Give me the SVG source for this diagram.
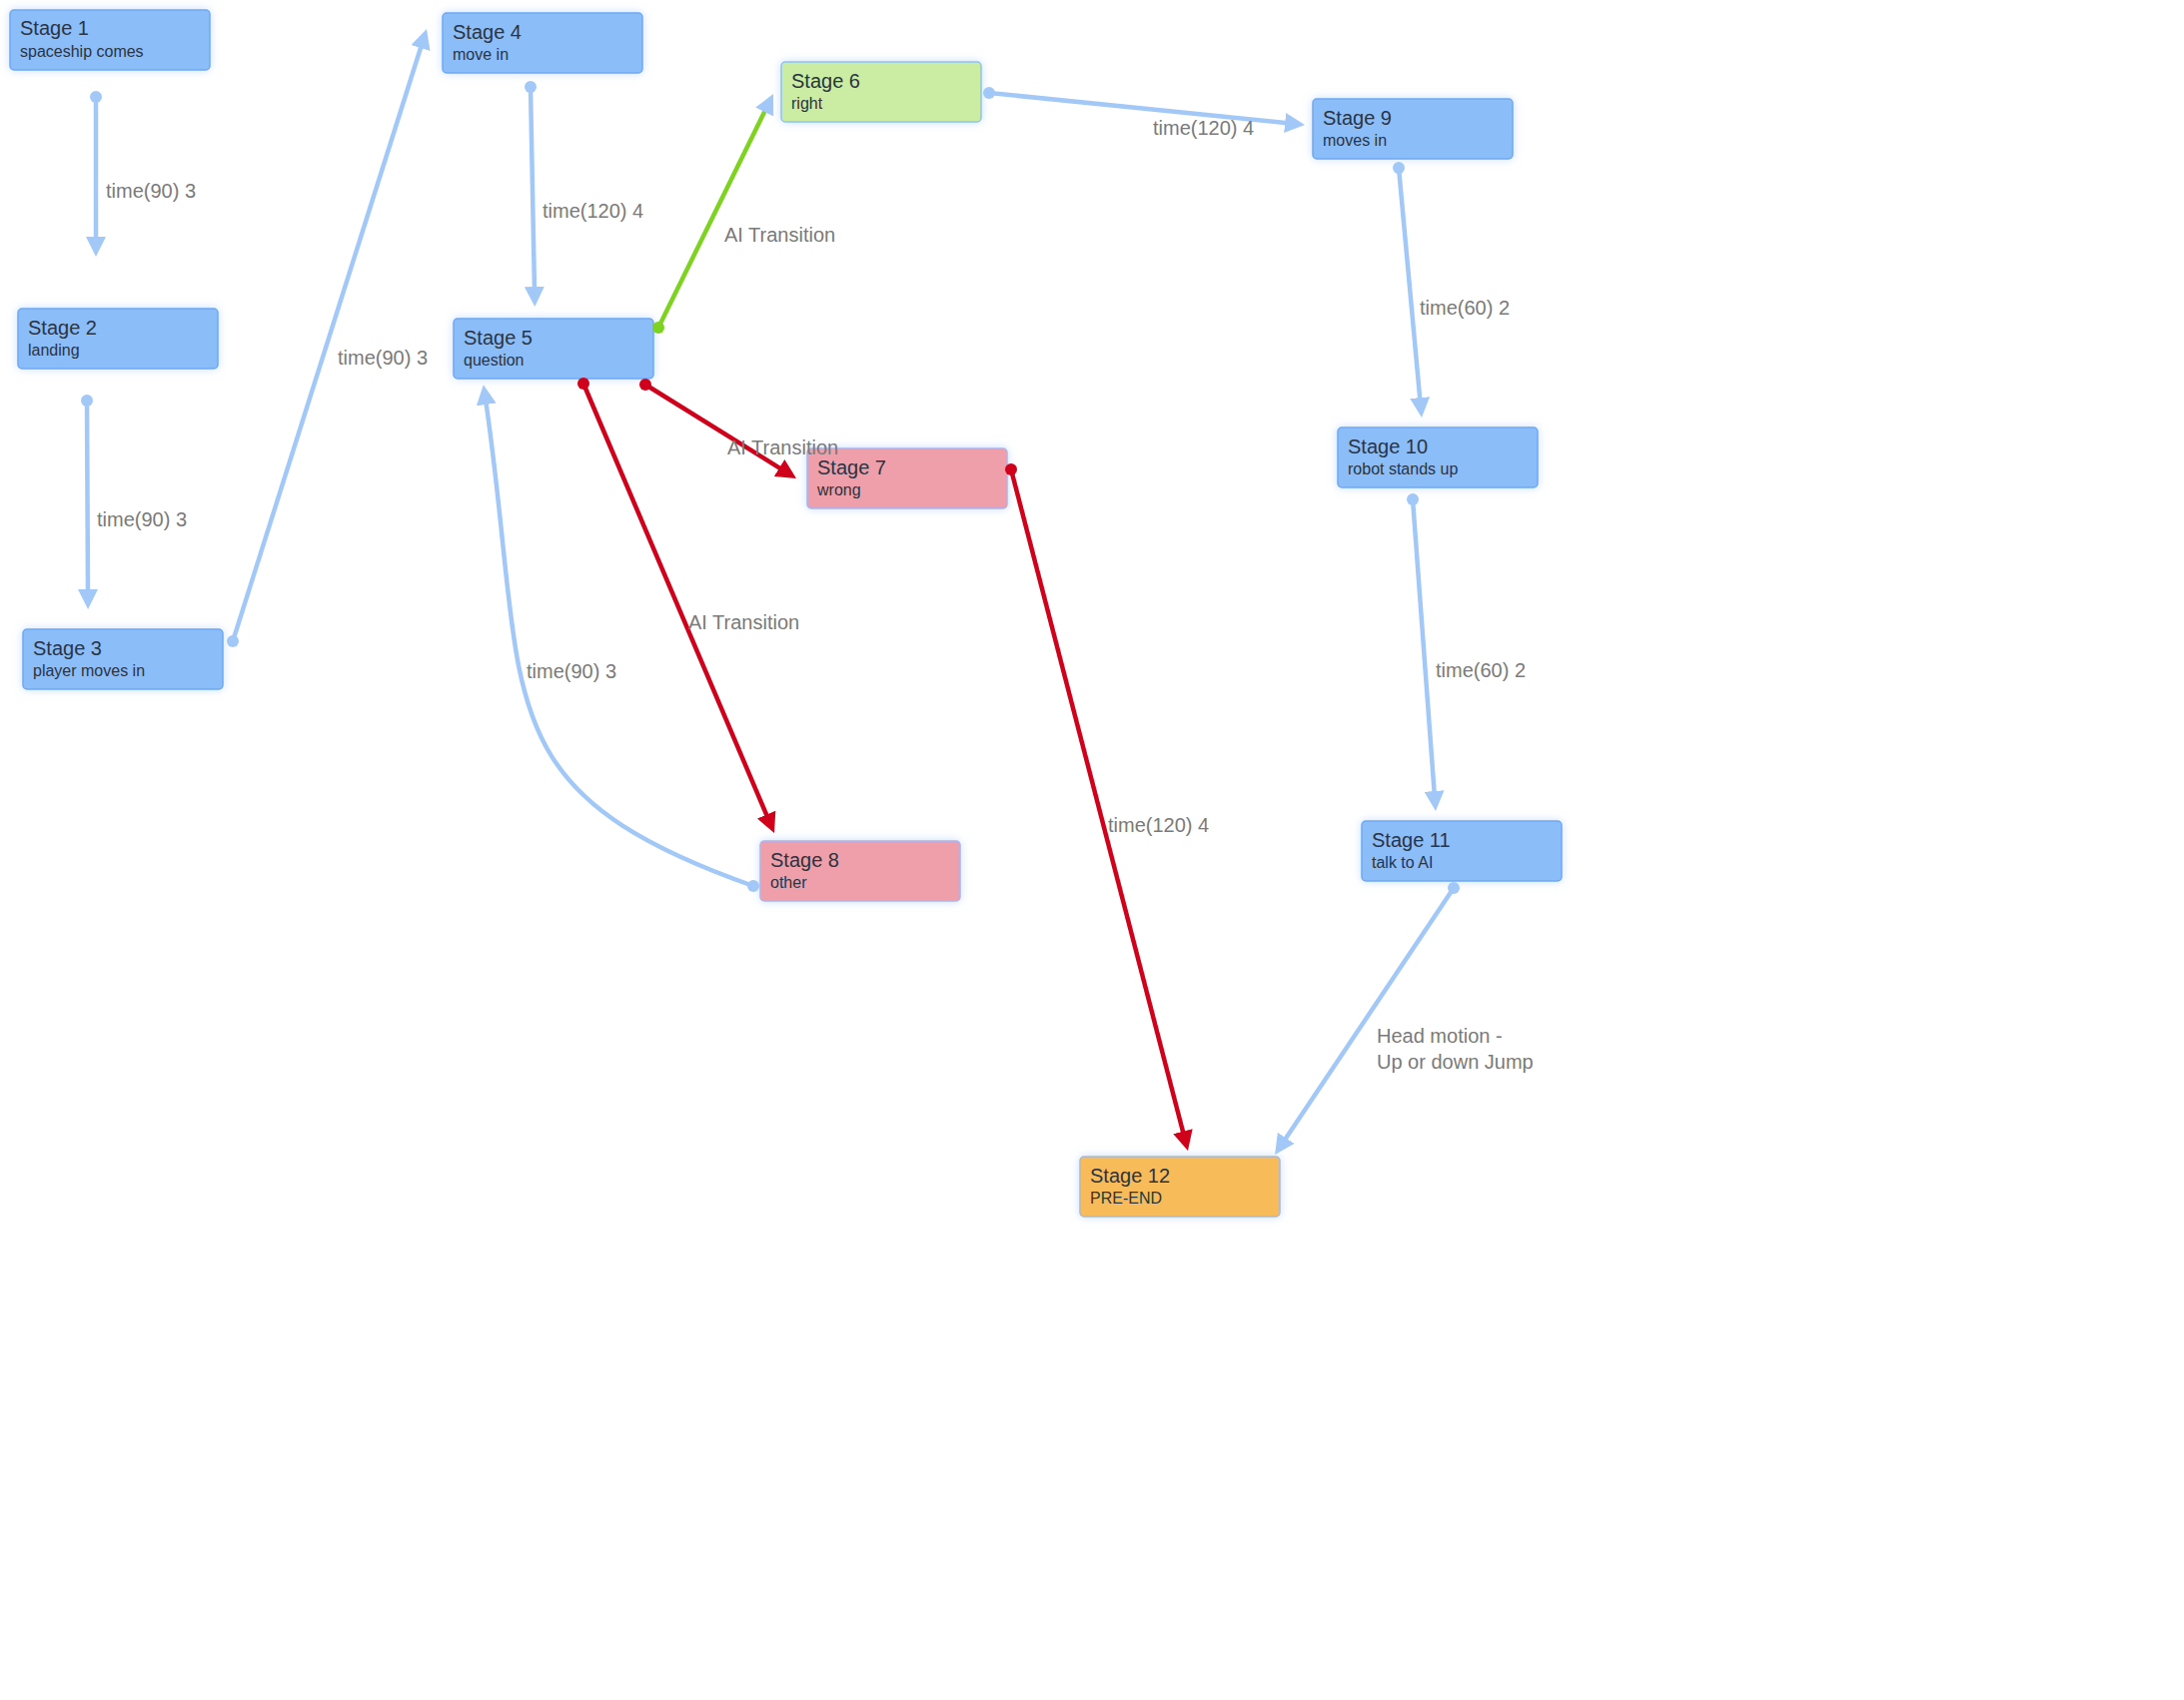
<svg xmlns="http://www.w3.org/2000/svg" width="2186" height="1702" viewBox="0 0 2186 1702">
<style>
.node rect{stroke-width:1.5}
.blue rect{fill:#8bbdf9;stroke:#6ea8f5}
.green rect{fill:#cbeda3;stroke:#8fc2f5}
.red rect{fill:#ee9fa9;stroke:#a9b5f2}
.orange rect{fill:#f7bb5a;stroke:#a9b9d8}
.title{font-family:"Liberation Sans",Arial,sans-serif;font-size:20px;fill:#2a3442}
.sub{font-family:"Liberation Sans",Arial,sans-serif;font-size:16px;fill:#2a3442}
.lbl{font-family:"Liberation Sans",Arial,sans-serif;font-size:20px;fill:#7a7a7a}
.c{fill:none;stroke-width:4.5}
.cb{stroke:#a2c8f8;marker-start:url(#dotB);marker-end:url(#arrB)}
.cr{stroke:#d0021b;marker-start:url(#dotR);marker-end:url(#arrR)}
.cg{stroke:#7ed321;marker-start:url(#dotG);marker-end:url(#arrB)}
</style>
<defs>
<filter id="glow" x="-20%" y="-30%" width="140%" height="160%">
<feDropShadow dx="0" dy="0" stdDeviation="4" flood-color="#9cc8fb" flood-opacity="0.55"/>
</filter>
<marker id="arrB" markerUnits="userSpaceOnUse" markerWidth="20" markerHeight="20" viewBox="0 0 20 20" refX="5" refY="10" orient="auto"><path d="M0,0 L20,10 L0,20 z" fill="#a2c8f8"/></marker>
<marker id="arrR" markerUnits="userSpaceOnUse" markerWidth="20" markerHeight="20" viewBox="0 0 20 20" refX="5" refY="10" orient="auto"><path d="M0,0 L20,10 L0,20 z" fill="#d0021b"/></marker>
<marker id="dotB" markerUnits="userSpaceOnUse" markerWidth="14" markerHeight="14" viewBox="0 0 14 14" refX="7" refY="7"><circle cx="7" cy="7" r="6" fill="#a2c8f8"/></marker>
<marker id="dotR" markerUnits="userSpaceOnUse" markerWidth="14" markerHeight="14" viewBox="0 0 14 14" refX="7" refY="7"><circle cx="7" cy="7" r="6" fill="#d0021b"/></marker>
<marker id="dotG" markerUnits="userSpaceOnUse" markerWidth="14" markerHeight="14" viewBox="0 0 14 14" refX="7" refY="7"><circle cx="7" cy="7" r="6" fill="#7ed321"/></marker>
</defs>
<rect width="2186" height="1702" fill="#ffffff"/>
<g id="nodes">
<g id="stage1" class="node blue"><rect x="10" y="10" width="200" height="60" rx="4" filter="url(#glow)"/><text class="title" x="20" y="35">Stage 1</text><text class="sub" x="20" y="57">spaceship comes</text></g>
<g id="stage2" class="node blue"><rect x="18" y="309" width="200" height="60" rx="4" filter="url(#glow)"/><text class="title" x="28" y="335">Stage 2</text><text class="sub" x="28" y="356">landing</text></g>
<g id="stage3" class="node blue"><rect x="23" y="630" width="200" height="60" rx="4" filter="url(#glow)"/><text class="title" x="33" y="656">Stage 3</text><text class="sub" x="33" y="677">player moves in</text></g>
<g id="stage4" class="node blue"><rect x="443" y="13" width="200" height="60" rx="4" filter="url(#glow)"/><text class="title" x="453" y="39">Stage 4</text><text class="sub" x="453" y="60">move in</text></g>
<g id="stage5" class="node blue"><rect x="454" y="319" width="200" height="60" rx="4" filter="url(#glow)"/><text class="title" x="464" y="345">Stage 5</text><text class="sub" x="464" y="366">question</text></g>
<g id="stage6" class="node green"><rect x="782" y="62" width="200" height="60" rx="4" filter="url(#glow)"/><text class="title" x="792" y="88">Stage 6</text><text class="sub" x="792" y="109">right</text></g>
<g id="stage7" class="node red"><rect x="808" y="449" width="200" height="60" rx="4" filter="url(#glow)"/><text class="title" x="818" y="475">Stage 7</text><text class="sub" x="818" y="496">wrong</text></g>
<g id="stage8" class="node red"><rect x="761" y="842" width="200" height="60" rx="4" filter="url(#glow)"/><text class="title" x="771" y="868">Stage 8</text><text class="sub" x="771" y="889">other</text></g>
<g id="stage9" class="node blue"><rect x="1314" y="99" width="200" height="60" rx="4" filter="url(#glow)"/><text class="title" x="1324" y="125">Stage 9</text><text class="sub" x="1324" y="146">moves in</text></g>
<g id="stage10" class="node blue"><rect x="1339" y="428" width="200" height="60" rx="4" filter="url(#glow)"/><text class="title" x="1349" y="454">Stage 10</text><text class="sub" x="1349" y="475">robot stands up</text></g>
<g id="stage11" class="node blue"><rect x="1363" y="822" width="200" height="60" rx="4" filter="url(#glow)"/><text class="title" x="1373" y="848">Stage 11</text><text class="sub" x="1373" y="869">talk to AI</text></g>
<g id="stage12" class="node orange"><rect x="1081" y="1158" width="200" height="60" rx="4" filter="url(#glow)"/><text class="title" x="1091" y="1184">Stage 12</text><text class="sub" x="1091" y="1205">PRE-END</text></g>
</g>
<g id="connectors">
<path class="c cb" d="M96,97 L96,242"/>
<path class="c cb" d="M87,401 L88,595"/>
<path class="c cb" d="M233,642 L422.5,43.3"/>
<path class="c cb" d="M531,87 L535,292"/>
<path class="c cg" d="M659,328 L767.4,107.5"/>
<path class="c cb" d="M990,93 L1291.1,123.5"/>
<path class="c cb" d="M1400,168 L1421.6,403.1"/>
<path class="c cb" d="M1414,500 L1435.9,797"/>
<path class="c cb" d="M1455,889 L1284.4,1143.5"/>
<path class="c cr" d="M1012,470 L1185.2,1137.5"/>
<path class="c cr" d="M646,385 L784.3,471.1"/>
<path class="c cr" d="M584,384 L769.1,820.2"/>
<path class="c cb" d="M754,887 C480,790 530,700 486,400"/>
</g>
<g id="labels">
<text class="lbl" x="106" y="198">time(90) 3</text>
<text class="lbl" x="97" y="527">time(90) 3</text>
<text class="lbl" x="338" y="365">time(90) 3</text>
<text class="lbl" x="543" y="218">time(120) 4</text>
<text class="lbl" x="725" y="242">AI Transition</text>
<text class="lbl" x="1154" y="135">time(120) 4</text>
<text class="lbl" x="1421" y="315">time(60) 2</text>
<text class="lbl" x="1437" y="678">time(60) 2</text>
<text class="lbl" x="1378" y="1044">Head motion -</text>
<text class="lbl" x="1378" y="1070">Up or down Jump</text>
<text class="lbl" x="1109" y="833">time(120) 4</text>
<text class="lbl" x="728" y="455">AI Transition</text>
<text class="lbl" x="689" y="630">AI Transition</text>
<text class="lbl" x="527" y="679">time(90) 3</text>
</g>
</svg>
